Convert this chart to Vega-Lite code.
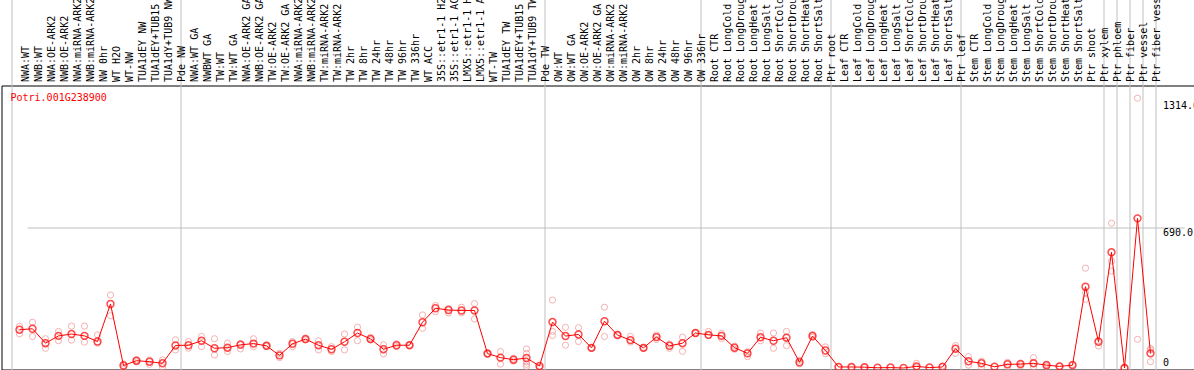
{
  "$schema": "https://vega.github.io/schema/vega-lite/v6.json",
  "autosize": {"type": "none"},
  "width": 1194,
  "height": 284,
  "padding": {"left": 1.5, "top": 85.5, "right": 0, "bottom": 0.5},
  "background": "white",
  "config": {
    "view": {"stroke": "black", "strokeWidth": 1},
    "font": "DejaVu Sans Mono"
  },
  "datasets": {
    "means": [
      {"i": 0, "s": "NWA:WT", "m": 188}, {"i": 1, "s": "NWB:WT", "m": 193}, {"i": 2, "s": "NWA:OE-ARK2", "m": 122},
      {"i": 3, "s": "NWB:OE-ARK2", "m": 158}, {"i": 4, "s": "NWA:miRNA-ARK2", "m": 167}, {"i": 5, "s": "NWB:miRNA-ARK2", "m": 158},
      {"i": 6, "s": "NW 0hr", "m": 130}, {"i": 7, "s": "WT H2O", "m": 315}, {"i": 8, "s": "WT-NW", "m": 12},
      {"i": 9, "s": "TUA1dEY NW", "m": 36}, {"i": 10, "s": "TUA1dEY+TUB15 NW", "m": 31}, {"i": 11, "s": "TUA1dY+TUB9 NW", "m": 23},
      {"i": 12, "s": "Pde NW", "m": 111}, {"i": 13, "s": "NWA:WT GA", "m": 112}, {"i": 14, "s": "NWBWT GA", "m": 134},
      {"i": 15, "s": "TW:WT", "m": 97}, {"i": 16, "s": "TW:WT GA", "m": 100}, {"i": 17, "s": "NWA:OE-ARK2 GA", "m": 114},
      {"i": 18, "s": "NWB:OE-ARK2 GA", "m": 120}, {"i": 19, "s": "TW:OE-ARK2", "m": 109}, {"i": 20, "s": "TW:OE-ARK2 GA", "m": 62},
      {"i": 21, "s": "NWA:miRNA-ARK2 ", "m": 119}, {"i": 22, "s": "NWB:miRNA-ARK2 ", "m": 142}, {"i": 23, "s": "TW:miRNA-ARK2", "m": 112},
      {"i": 24, "s": "TW:miRNA-ARK2 ", "m": 92}, {"i": 25, "s": "TW 2hr", "m": 129}, {"i": 26, "s": "TW 8hr", "m": 172},
      {"i": 27, "s": "TW 24hr", "m": 143}, {"i": 28, "s": "TW 48hr", "m": 92}, {"i": 29, "s": "TW 96hr", "m": 112},
      {"i": 30, "s": "TW 336hr", "m": 112}, {"i": 31, "s": "WT ACC", "m": 225}, {"i": 32, "s": "35S::etr1-1 H2O", "m": 294},
      {"i": 33, "s": "35S::etr1-1 ACC", "m": 285}, {"i": 34, "s": "LMX5::etr1-1 H2O", "m": 283}, {"i": 35, "s": "LMX5::etr1-1 ACC", "m": 283},
      {"i": 36, "s": "WT-TW", "m": 71}, {"i": 37, "s": "TUA1dEY TW", "m": 51}, {"i": 38, "s": "TUA1dEY+TUB15 TW", "m": 41},
      {"i": 39, "s": "TUA1dY+TUB9 TW", "m": 49}, {"i": 40, "s": "Pde TW", "m": 10}, {"i": 41, "s": "OW:WT", "m": 226},
      {"i": 42, "s": "OW:WT GA", "m": 157}, {"i": 43, "s": "OW:OE-ARK2", "m": 165}, {"i": 44, "s": "OW:OE-ARK2 GA", "m": 99},
      {"i": 45, "s": "OW:miRNA-ARK2", "m": 230}, {"i": 46, "s": "OW:miRNA-ARK2 ", "m": 162}, {"i": 47, "s": "OW 2hr", "m": 137},
      {"i": 48, "s": "OW 8hr", "m": 99}, {"i": 49, "s": "OW 24hr", "m": 152}, {"i": 50, "s": "OW 48hr", "m": 109},
      {"i": 51, "s": "OW 96hr", "m": 122}, {"i": 52, "s": "OW 336hr", "m": 172}, {"i": 53, "s": "Root CTR", "m": 163},
      {"i": 54, "s": "Root LongCold", "m": 158}, {"i": 55, "s": "Root LongDrought", "m": 100}, {"i": 56, "s": "Root LongHeat", "m": 72},
      {"i": 57, "s": "Root LongSalt", "m": 151}, {"i": 58, "s": "Root ShortCold", "m": 134}, {"i": 59, "s": "Root ShortDrought", "m": 149},
      {"i": 60, "s": "Root ShortHeat", "m": 28}, {"i": 61, "s": "Root ShortSalt", "m": 157}, {"i": 62, "s": "Ptr root", "m": 86},
      {"i": 63, "s": "Leaf CTR", "m": 5}, {"i": 64, "s": "Leaf LongCold", "m": 5}, {"i": 65, "s": "Leaf LongDrought", "m": 4},
      {"i": 66, "s": "Leaf LongHeat", "m": 1}, {"i": 67, "s": "Leaf LongSalt", "m": 2}, {"i": 68, "s": "Leaf ShortCold", "m": 0},
      {"i": 69, "s": "Leaf ShortDrought", "m": 8}, {"i": 70, "s": "Leaf ShortHeat", "m": 2}, {"i": 71, "s": "Leaf ShortSalt", "m": 5},
      {"i": 72, "s": "Ptr leaf", "m": 95}, {"i": 73, "s": "Stem CTR", "m": 33}, {"i": 74, "s": "Stem LongCold", "m": 23},
      {"i": 75, "s": "Stem LongDrought", "m": 6}, {"i": 76, "s": "Stem LongHeat", "m": 18}, {"i": 77, "s": "Stem LongSalt", "m": 19},
      {"i": 78, "s": "Stem ShortCold", "m": 23}, {"i": 79, "s": "Stem ShortDrought", "m": 14}, {"i": 80, "s": "Stem ShortHeat", "m": 8},
      {"i": 81, "s": "Stem ShortSalt", "m": 14}, {"i": 82, "s": "Ptr shoot", "m": 400}, {"i": 83, "s": "Ptr xylem", "m": 129},
      {"i": 84, "s": "Ptr phloem", "m": 569}, {"i": 85, "s": "Ptr fiber", "m": 0}, {"i": 86, "s": "Ptr vessel", "m": 736},
      {"i": 87, "s": "Ptr fiber vessel", "m": 72}
    ],
    "reps": [
      {"s": "NWA:WT", "v": 205}, {"s": "NWA:WT", "v": 168}, {"s": "NWB:WT", "v": 225}, {"s": "NWB:WT", "v": 155},
      {"s": "NWA:OE-ARK2", "v": 144}, {"s": "NWA:OE-ARK2", "v": 97}, {"s": "NWB:OE-ARK2", "v": 180}, {"s": "NWB:OE-ARK2", "v": 134},
      {"s": "NWA:miRNA-ARK2", "v": 206}, {"s": "NWA:miRNA-ARK2", "v": 137}, {"s": "NWB:miRNA-ARK2", "v": 206}, {"s": "NWB:miRNA-ARK2", "v": 127},
      {"s": "NW 0hr", "v": 163}, {"s": "NW 0hr", "v": 122}, {"s": "WT H2O", "v": 359}, {"s": "WT H2O", "v": 257},
      {"s": "WT-NW", "v": 20}, {"s": "WT-NW", "v": 2}, {"s": "TUA1dEY NW", "v": 40}, {"s": "TUA1dEY NW", "v": 30},
      {"s": "TUA1dEY+TUB15 NW", "v": 40}, {"s": "TUA1dEY+TUB15 NW", "v": 18}, {"s": "TUA1dY+TUB9 NW", "v": 40}, {"s": "TUA1dY+TUB9 NW", "v": 5},
      {"s": "Pde NW", "v": 139}, {"s": "Pde NW", "v": 89}, {"s": "NWA:WT GA", "v": 130}, {"s": "NWA:WT GA", "v": 97},
      {"s": "NWBWT GA", "v": 155}, {"s": "NWBWT GA", "v": 105}, {"s": "TW:WT", "v": 144}, {"s": "TW:WT", "v": 64},
      {"s": "TW:WT GA", "v": 122}, {"s": "TW:WT GA", "v": 81}, {"s": "NWA:OE-ARK2 GA", "v": 120}, {"s": "NWA:OE-ARK2 GA", "v": 94},
      {"s": "NWB:OE-ARK2 GA", "v": 144}, {"s": "NWB:OE-ARK2 GA", "v": 105}, {"s": "TW:OE-ARK2", "v": 112}, {"s": "TW:OE-ARK2", "v": 106},
      {"s": "TW:OE-ARK2 GA", "v": 72}, {"s": "TW:OE-ARK2 GA", "v": 51}, {"s": "NWA:miRNA-ARK2 ", "v": 130}, {"s": "NWA:miRNA-ARK2 ", "v": 105},
      {"s": "NWB:miRNA-ARK2 ", "v": 148}, {"s": "NWB:miRNA-ARK2 ", "v": 138}, {"s": "TW:miRNA-ARK2", "v": 134}, {"s": "TW:miRNA-ARK2", "v": 89},
      {"s": "TW:miRNA-ARK2 ", "v": 105}, {"s": "TW:miRNA-ARK2 ", "v": 81}, {"s": "TW 2hr", "v": 167}, {"s": "TW 2hr", "v": 89},
      {"s": "TW 8hr", "v": 201}, {"s": "TW 8hr", "v": 134}, {"s": "TW 24hr", "v": 150}, {"s": "TW 24hr", "v": 138},
      {"s": "TW 48hr", "v": 114}, {"s": "TW 48hr", "v": 69}, {"s": "TW 96hr", "v": 105}, {"s": "TW 96hr", "v": 120},
      {"s": "TW 336hr", "v": 114}, {"s": "TW 336hr", "v": 110}, {"s": "WT ACC", "v": 261}, {"s": "WT ACC", "v": 195},
      {"s": "35S::etr1-1 H2O", "v": 307}, {"s": "35S::etr1-1 H2O", "v": 277}, {"s": "35S::etr1-1 ACC", "v": 292}, {"s": "35S::etr1-1 ACC", "v": 271},
      {"s": "LMX5::etr1-1 H2O", "v": 299}, {"s": "LMX5::etr1-1 H2O", "v": 271}, {"s": "LMX5::etr1-1 ACC", "v": 317}, {"s": "LMX5::etr1-1 ACC", "v": 241},
      {"s": "WT-TW", "v": 73}, {"s": "WT-TW", "v": 68}, {"s": "TUA1dEY TW", "v": 81}, {"s": "TUA1dEY TW", "v": 19},
      {"s": "TUA1dEY+TUB15 TW", "v": 48}, {"s": "TUA1dEY+TUB15 TW", "v": 34},
      {"s": "TUA1dY+TUB9 TW", "v": 94}, {"s": "TUA1dY+TUB9 TW", "v": 72}, {"s": "TUA1dY+TUB9 TW", "v": 30}, {"s": "TUA1dY+TUB9 TW", "v": 18}, {"s": "TUA1dY+TUB9 TW", "v": 8},
      {"s": "Pde TW", "v": 5}, {"s": "Pde TW", "v": 0},
      {"s": "OW:WT", "v": 334}, {"s": "OW:WT", "v": 180}, {"s": "OW:WT", "v": 160},
      {"s": "OW:WT GA", "v": 200}, {"s": "OW:WT GA", "v": 112}, {"s": "OW:OE-ARK2", "v": 198}, {"s": "OW:OE-ARK2", "v": 130},
      {"s": "OW:OE-ARK2 GA", "v": 101}, {"s": "OW:OE-ARK2 GA", "v": 97}, {"s": "OW:miRNA-ARK2", "v": 299}, {"s": "OW:miRNA-ARK2", "v": 155},
      {"s": "OW:miRNA-ARK2 ", "v": 164}, {"s": "OW:miRNA-ARK2 ", "v": 160}, {"s": "OW 2hr", "v": 155}, {"s": "OW 2hr", "v": 127},
      {"s": "OW 8hr", "v": 97}, {"s": "OW 8hr", "v": 101}, {"s": "OW 24hr", "v": 162}, {"s": "OW 24hr", "v": 140},
      {"s": "OW 48hr", "v": 118}, {"s": "OW 48hr", "v": 97}, {"s": "OW 96hr", "v": 152}, {"s": "OW 96hr", "v": 82},
      {"s": "OW 336hr", "v": 174}, {"s": "OW 336hr", "v": 170}, {"s": "Root CTR", "v": 180}, {"s": "Root CTR", "v": 160},
      {"s": "Root LongCold", "v": 170}, {"s": "Root LongCold", "v": 145}, {"s": "Root LongDrought", "v": 108}, {"s": "Root LongDrought", "v": 92},
      {"s": "Root LongHeat", "v": 80}, {"s": "Root LongHeat", "v": 56}, {"s": "Root LongSalt", "v": 172}, {"s": "Root LongSalt", "v": 134},
      {"s": "Root ShortCold", "v": 172}, {"s": "Root ShortCold", "v": 97}, {"s": "Root ShortDrought", "v": 180}, {"s": "Root ShortDrought", "v": 110},
      {"s": "Root ShortHeat", "v": 38}, {"s": "Root ShortHeat", "v": 20}, {"s": "Root ShortSalt", "v": 165}, {"s": "Root ShortSalt", "v": 150},
      {"s": "Ptr root", "v": 104}, {"s": "Ptr root", "v": 70}, {"s": "Leaf CTR", "v": 6}, {"s": "Leaf LongCold", "v": 4},
      {"s": "Leaf LongDrought", "v": 3}, {"s": "Leaf ShortDrought", "v": 23}, {"s": "Leaf ShortDrought", "v": 3}, {"s": "Leaf ShortSalt", "v": 10},
      {"s": "Ptr leaf", "v": 110}, {"s": "Ptr leaf", "v": 72}, {"s": "Stem CTR", "v": 56}, {"s": "Stem CTR", "v": 14},
      {"s": "Stem LongCold", "v": 34}, {"s": "Stem LongCold", "v": 5}, {"s": "Stem LongHeat", "v": 28}, {"s": "Stem LongHeat", "v": 6},
      {"s": "Stem LongSalt", "v": 25}, {"s": "Stem LongSalt", "v": 10}, {"s": "Stem ShortCold", "v": 51}, {"s": "Stem ShortCold", "v": 5},
      {"s": "Stem ShortDrought", "v": 20}, {"s": "Stem ShortDrought", "v": 8}, {"s": "Stem ShortHeat", "v": 10}, {"s": "Stem ShortSalt", "v": 18},
      {"s": "Ptr shoot", "v": 491}, {"s": "Ptr shoot", "v": 338}, {"s": "Ptr shoot", "v": 370},
      {"s": "Ptr xylem", "v": 134}, {"s": "Ptr xylem", "v": 108},
      {"s": "Ptr phloem", "v": 712}, {"s": "Ptr phloem", "v": 526}, {"s": "Ptr phloem", "v": 477},
      {"s": "Ptr fiber", "v": 0}, {"s": "Ptr fiber", "v": 2},
      {"s": "Ptr vessel", "v": 1327}, {"s": "Ptr vessel", "v": 141},
      {"s": "Ptr fiber vessel", "v": 96}, {"s": "Ptr fiber vessel", "v": 31}, {"s": "Ptr fiber vessel", "v": 88}
    ]
  },
  "encoding": {
    "x": {
      "field": "s",
      "type": "nominal",
      "scale": {
        "type": "band",
        "range": [11.5, 1168.5],
        "paddingInner": 0,
        "paddingOuter": 0,
        "domain": ["NWA:WT", "NWB:WT", "NWA:OE-ARK2", "NWB:OE-ARK2", "NWA:miRNA-ARK2", "NWB:miRNA-ARK2", "NW 0hr", "WT H2O", "WT-NW", "TUA1dEY NW", "TUA1dEY+TUB15 NW", "TUA1dY+TUB9 NW", "Pde NW",
          "NWA:WT GA", "NWBWT GA", "TW:WT", "TW:WT GA", "NWA:OE-ARK2 GA", "NWB:OE-ARK2 GA", "TW:OE-ARK2", "TW:OE-ARK2 GA", "NWA:miRNA-ARK2 ", "NWB:miRNA-ARK2 ", "TW:miRNA-ARK2", "TW:miRNA-ARK2 ", "TW 2hr", "TW 8hr", "TW 24hr", "TW 48hr", "TW 96hr", "TW 336hr", "WT ACC", "35S::etr1-1 H2O", "35S::etr1-1 ACC", "LMX5::etr1-1 H2O", "LMX5::etr1-1 ACC", "WT-TW", "TUA1dEY TW", "TUA1dEY+TUB15 TW", "TUA1dY+TUB9 TW", "Pde TW",
          "OW:WT", "OW:WT GA", "OW:OE-ARK2", "OW:OE-ARK2 GA", "OW:miRNA-ARK2", "OW:miRNA-ARK2 ", "OW 2hr", "OW 8hr", "OW 24hr", "OW 48hr", "OW 96hr", "OW 336hr",
          "Root CTR", "Root LongCold", "Root LongDrought", "Root LongHeat", "Root LongSalt", "Root ShortCold", "Root ShortDrought", "Root ShortHeat", "Root ShortSalt", "Ptr root",
          "Leaf CTR", "Leaf LongCold", "Leaf LongDrought", "Leaf LongHeat", "Leaf LongSalt", "Leaf ShortCold", "Leaf ShortDrought", "Leaf ShortHeat", "Leaf ShortSalt", "Ptr leaf",
          "Stem CTR", "Stem LongCold", "Stem LongDrought", "Stem LongHeat", "Stem LongSalt", "Stem ShortCold", "Stem ShortDrought", "Stem ShortHeat", "Stem ShortSalt", "Ptr shoot", "Ptr xylem",
          "Ptr phloem", "Ptr fiber", "Ptr vessel", "Ptr fiber vessel", ""]
      },
      "axis": {
        "orient": "top",
        "domain": false,
        "grid": true,
        "bandPosition": 0,
        "tickOffset": -2,
        "labelOffset": 7.5,
        "ticks": true,
        "tickSize": 86,
        "tickColor": "#c0c0c0",
        "tickOpacity": {"condition": {"test": "indexof(['NWA:WT','NWA:WT GA','OW:WT','Root CTR','Leaf CTR','Stem CTR','Ptr phloem','Ptr fiber','Ptr vessel','Ptr fiber vessel',''], datum.value) >= 0", "value": 1}, "value": 0},
        "gridColor": "#c0c0c0",
        "gridOpacity": {"condition": {"test": "indexof(['NWA:WT','NWA:WT GA','OW:WT','Root CTR','Leaf CTR','Stem CTR','Ptr phloem','Ptr fiber','Ptr vessel','Ptr fiber vessel',''], datum.value) >= 0", "value": 1}, "value": 0},
        "labelAngle": 270,
        "labelAlign": "left",
        "labelBaseline": "middle",
        "labelPadding": -82,
        "labelFont": "DejaVu Sans Mono",
        "labelFontSize": 10,
        "labelColor": "black",
        "labelOverlap": false,
        "labelLimit": 300,
        "title": "Potri.001G238900",
        "titleX": 8.5,
        "titleY": 11.5,
        "titleAngle": 0,
        "titleAlign": "left",
        "titleBaseline": "middle",
        "titleColor": "#ff0000",
        "titleFont": "DejaVu Sans Mono",
        "titleFontSize": 10,
        "titleFontWeight": "normal"
      }
    }
  },
  "layer": [
    {
      "data": {"name": "reps"},
      "mark": {"type": "point", "shape": "circle", "filled": false, "stroke": "#f09090", "strokeWidth": 1, "size": 38},
      "encoding": {
        "y": {
          "field": "v", "type": "quantitative",
          "scale": {"domain": [-7.4, 1389.6], "nice": false, "zero": false},
          "axis": {
            "orient": "right",
            "values": [0, 690, 1314],
            "labelExpr": "datum.value == 0 ? '0' : format(datum.value, '.1f')",
            "domain": false,
            "ticks": false,
            "grid": true,
            "gridColor": "#c0c0c0",
            "gridOpacity": {"condition": {"test": "datum.value == 690", "value": 1}, "value": 0},
            "labelPadding": -33,
            "labelAlign": "left",
            "labelBaseline": {"condition": {"test": "datum.value == 0", "value": "bottom"}, "value": "top"},
            "labelFont": "DejaVu Sans Mono",
            "labelFontSize": 10,
            "labelColor": "black",
            "labelFlush": false,
            "labelOverlap": false,
            "title": null
          }
        }
      }
    },
    {
      "data": {"name": "means"},
      "mark": {"type": "line", "color": "#ff0000", "strokeWidth": 1},
      "encoding": {
        "y": {"field": "m", "type": "quantitative", "scale": {"domain": [-7.4, 1389.6], "nice": false, "zero": false}},
        "order": {"field": "i", "type": "quantitative"}
      }
    },
    {
      "data": {"name": "means"},
      "mark": {"type": "point", "shape": "circle", "filled": false, "stroke": "#ff0000", "strokeWidth": 1.5, "size": 48},
      "encoding": {
        "y": {"field": "m", "type": "quantitative", "scale": {"domain": [-7.4, 1389.6], "nice": false, "zero": false}}
      }
    }
  ]
}
